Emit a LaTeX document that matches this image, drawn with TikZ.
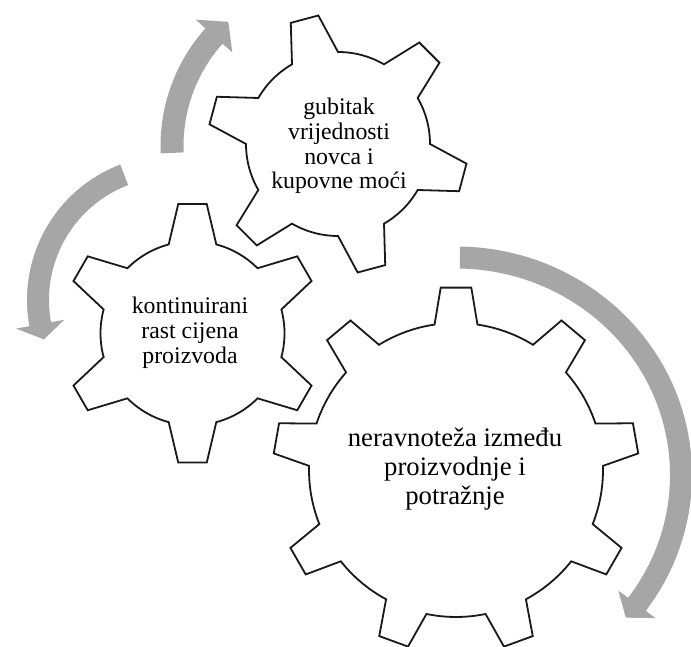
\documentclass[tikz,border=0pt]{standalone}
\usepackage{fontspec}
\setmainfont{Liberation Serif}
\definecolor{arrowgray}{HTML}{A6A6A6}
\newcommand{\gearoutline}[8]{%
  \draw[gearline, shift={(#1,#2)}] ({#4-#8}:#6)
    \foreach \k in {1,...,#3}{
      -- ({#4+(\k-1)*360/#3-#7}:#5)
      -- ({#4+(\k-1)*360/#3+#7}:#5)
      -- ({#4+(\k-1)*360/#3+#8}:#6)
      arc[start angle={#4+(\k-1)*360/#3+#8}, end angle={#4+\k*360/#3-#8}, radius=#6]
    } -- cycle;}
% cx cy Rx Ry w a1 a2 tipangle headhalf
\newcommand{\circarrow}[9]{%
  \fill[arrowfill, shift={(#1,#2)}]
    ({#6}:{#3+#5/2} and {#4+#5/2})
      arc[start angle={#6}, end angle={#7}, x radius={#3+#5/2}, y radius={#4+#5/2}]
    -- ({#7}:{#3+#9} and {#4+#9}) -- ({#8}:{#3} and {#4}) -- ({#7}:{#3-#9} and {#4-#9})
    -- ({#7}:{#3-#5/2} and {#4-#5/2})
      arc[start angle={#7}, end angle={#6}, x radius={#3-#5/2}, y radius={#4-#5/2}]
    -- cycle;}
\begin{document}
\begin{tikzpicture}[x=1pt,y=1pt,
  gearline/.style={draw=black!90, line width=1.8pt, fill=white, line join=miter},
  arrowfill/.style={fill=arrowgray, draw=none},
  smalltext/.style={align=center, font=\fontsize{23.8}{24.8}\selectfont, inner sep=0pt},
  bigtext/.style={align=center, font=\fontsize{26.7}{28.6}\selectfont, inner sep=0pt}]
\useasboundingbox (0,0) rectangle (691,647);
% circular arrows
\circarrow{337}{501}{165}{165}{23}{182.4}{138.2}{131.2}{24.5}
\circarrow{172}{347}{134}{134}{22}{110.9}{190.4}{197.1}{24.5}
\circarrow{456}{172}{225}{217.5}{22}{89}{-36.5}{-41}{23}
% gears
\gearoutline{338}{503}{6}{105}{130}{92}{6.3}{15}
\gearoutline{192.5}{313.7}{6}{90}{130}{92}{6.3}{15}
\gearoutline{456}{177}{9}{90}{183}{147}{4.8}{8.4}
% labels
\node[smalltext] (t1) at (339,501) {gubitak\\vrijednosti\\novca i\\kupovne moći};
\node[smalltext] (t2) at (190,314) {kontinuirani\\rast cijena\\proizvoda};
\node[bigtext] (t3) at (455,178) {neravnoteža između\\proizvodnje i\\potražnje};
\end{tikzpicture}
\end{document}
